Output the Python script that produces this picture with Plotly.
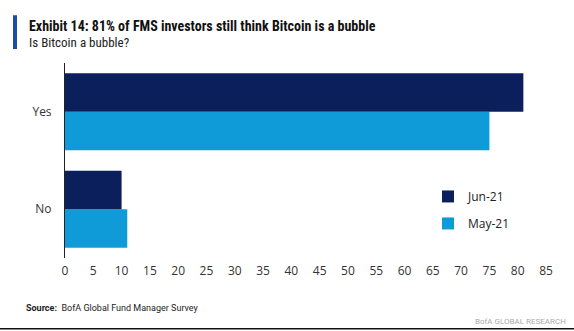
import plotly.graph_objects as go

categories = ["Yes", "No"]
jun21 = [81, 10]
may21 = [75, 11]
x_ticks = list(range(0, 90, 5))

DARK = "#0b1f5c"
LIGHT = "#0e9bd8"

fig = go.Figure()
fig.add_trace(go.Bar(y=categories, x=may21, name="May-21", orientation="h",
                     marker=dict(color=LIGHT, line=dict(width=0)),
                     legendrank=2, legendgroup="may"))
fig.add_trace(go.Bar(y=categories, x=jun21, name="Jun-21", orientation="h",
                     marker=dict(color=DARK, line=dict(width=0)),
                     legendrank=1, legendgroup="jun"))

fig.update_layout(
    width=574, height=331,
    margin=dict(l=65, r=28, t=63, b=73),
    paper_bgcolor="white", plot_bgcolor="white",
    barmode="group", bargap=0.21, bargroupgap=0,
    font=dict(family="Open Sans, Liberation Sans, sans-serif", color="#333333", size=12),
    showlegend=True,
    legend=dict(x=(428-65)/481, y=0.39, xanchor="left", yanchor="top",
                bgcolor="rgba(0,0,0,0)", font=dict(size=12, color="#222"),
                itemwidth=30, traceorder="grouped", tracegroupgap=8),
    xaxis=dict(range=[0, 85], tickvals=x_ticks, ticktext=[str(v) for v in x_ticks],
               showgrid=False, zeroline=False, showline=False, ticks="",
               tickfont=dict(size=12, color="#333"), ticklabelstandoff=4),
    yaxis=dict(categoryorder="array", categoryarray=["No", "Yes"],
               showgrid=False, zeroline=False, showline=True, linecolor="#222",
               linewidth=1, ticks="", tickfont=dict(size=12, color="#333"),
               ticklabelstandoff=10),
)

# header accent bar
fig.add_shape(type="rect", xref="paper", yref="paper",
              x0=-52/481, x1=-48/481, y0=(331-73-14)/196, y1=(331-73-48)/196,
              fillcolor="#1c4fa3", line=dict(width=0))
# bottom rule
fig.add_shape(type="line", xref="paper", yref="paper",
              x0=-65/481, x1=(574-65)/481, y0=(258-329)/196, y1=(258-329)/196,
              line=dict(color="#111", width=1.5))

fig.add_annotation(xref="paper", yref="paper", x=-38/481, y=(258-25)/196,
                   xanchor="left", yanchor="middle", showarrow=False,
                   text="<b>Exhibit 14: 81% of FMS investors still think Bitcoin is a bubble</b>",
                   font=dict(family="Liberation Sans Narrow, Roboto Condensed, Roboto, sans-serif", size=14, color="#111"))
fig.add_annotation(xref="paper", yref="paper", x=-38/481, y=(258-41)/196,
                   xanchor="left", yanchor="middle", showarrow=False,
                   text="Is Bitcoin a bubble?",
                   font=dict(family="Liberation Sans Narrow, Roboto Condensed, Roboto, sans-serif", size=13, color="#222"))
fig.add_annotation(xref="paper", yref="paper", x=-41/481, y=(258-308)/196,
                   xanchor="left", yanchor="middle", showarrow=False,
                   text="<b>Source:</b>  BofA Global Fund Manager Survey",
                   font=dict(family="Liberation Sans Narrow, Roboto, sans-serif", size=9, color="#222"))
fig.add_annotation(xref="paper", yref="paper", x=(568-65)/481, y=(258-322)/196,
                   xanchor="right", yanchor="middle", showarrow=False,
                   text="BofA GLOBAL RESEARCH",
                   font=dict(family="Liberation Sans Narrow, Roboto, sans-serif", size=8, color="#aaa"))

fig.write_html("out.html")
